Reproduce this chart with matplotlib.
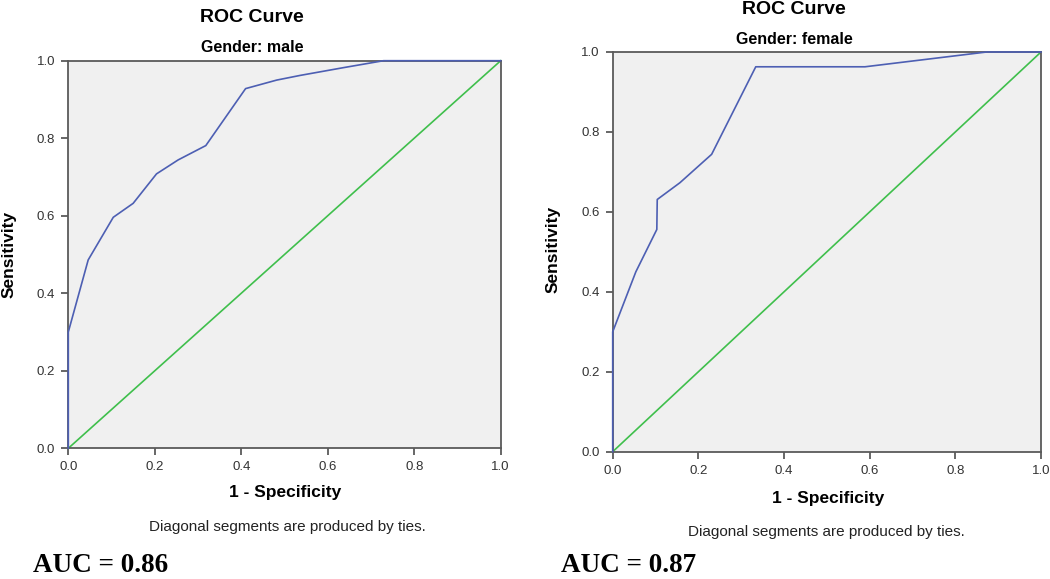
import matplotlib
matplotlib.use("Agg")
import matplotlib.pyplot as plt

# ROC points: (1 - specificity, sensitivity)
male_fpr = [0.0, 0.0, 0.046, 0.104, 0.150, 0.204, 0.254, 0.318, 0.410, 0.482, 0.536, 0.636, 0.729, 1.0]
male_tpr = [0.0, 0.300, 0.486, 0.596, 0.632, 0.708, 0.744, 0.781, 0.928, 0.950, 0.962, 0.982, 1.0, 1.0]

female_fpr = [0.0, 0.0, 0.054, 0.103, 0.104, 0.157, 0.231, 0.334, 0.589, 0.873, 1.0]
female_tpr = [0.0, 0.300, 0.450, 0.556, 0.631, 0.673, 0.744, 0.963, 0.963, 1.0, 1.0]

ticks = [0.0, 0.2, 0.4, 0.6, 0.8, 1.0]
tick_labels = ["0.0", "0.2", "0.4", "0.6", "0.8", "1.0"]

groups = ["male", "female"]
auc_values = [0.86, 0.87]

W, H = 1050, 579
SANS = ["Liberation Sans", "DejaVu Sans"]
SERIF = ["Liberation Serif", "DejaVu Serif"]
BLUE = "#4d5fb3"
GREEN = "#3fbf4c"
AXC = "#5a5a5a"

fig = plt.figure(figsize=(W / 100, H / 100), dpi=100)
fig.patch.set_facecolor("white")


def px(x, y):
    return x / W, 1 - y / H


def add_panel(box, fpr, tpr, group, auc, layout):
    l, t, r, b = box
    ax = fig.add_axes([l / W, 1 - b / H, (r - l) / W, (b - t) / H])
    ax.set_facecolor("#f0f0f0")
    ax.plot([0, 1], [0, 1], color=GREEN, lw=1.2, clip_on=False, zorder=2)
    ax.plot(fpr, tpr, color=BLUE, lw=1.2, clip_on=False, zorder=3)
    ax.set_xlim(0, 1)
    ax.set_ylim(0, 1)
    ax.set_xticks(ticks)
    ax.set_xticklabels(tick_labels)
    ax.set_yticks(ticks)
    ax.set_yticklabels(tick_labels)
    for s in ax.spines.values():
        s.set_color(AXC)
        s.set_linewidth(1.3)
    ax.tick_params(direction="out", length=5, width=1.3, color=AXC,
                   labelsize=9.5, labelcolor="#333333", pad=4.5)
    for lab in ax.get_xticklabels() + ax.get_yticklabels():
        lab.set_family(SANS)

    fig.text(*px(*layout["title"]), "ROC Curve", ha="center", va="center",
             fontsize=14, fontweight="bold", family=SANS)
    fig.text(*px(*layout["sub"]), "Gender: " + group, ha="center", va="center",
             fontsize=11.5, fontweight="bold", family=SANS)
    fig.text(*px(*layout["ylab"]), "Sensitivity", ha="center", va="center",
             rotation=90, fontsize=12.5, fontweight="bold", family=SANS)
    fig.text(*px(*layout["xlab"]), "1 - Specificity", ha="center", va="center",
             fontsize=12.5, fontweight="bold", family=SANS)
    fig.text(*px(*layout["note"]), "Diagonal segments are produced by ties.",
             ha="center", va="center", fontsize=11, color="#222222", family=SANS)
    fig.text(*px(*layout["auc"]), f"AUC = {auc:.2f}", ha="left", va="bottom",
             fontsize=19.5, fontweight="bold", family=SERIF)


add_panel((68.3, 60.7, 500.7, 448.3), male_fpr, male_tpr, groups[0], auc_values[0],
          {"title": (252, 17), "sub": (252, 48), "ylab": (9, 254),
           "xlab": (285, 493), "note": (287, 527), "auc": (33, 578)})
add_panel((612.7, 52.0, 1041.0, 451.7), female_fpr, female_tpr, groups[1], auc_values[1],
          {"title": (794, 9), "sub": (794, 40), "ylab": (553, 249),
           "xlab": (828, 498), "note": (826, 532), "auc": (561, 578)})

fig.savefig("out.png", dpi=100)
